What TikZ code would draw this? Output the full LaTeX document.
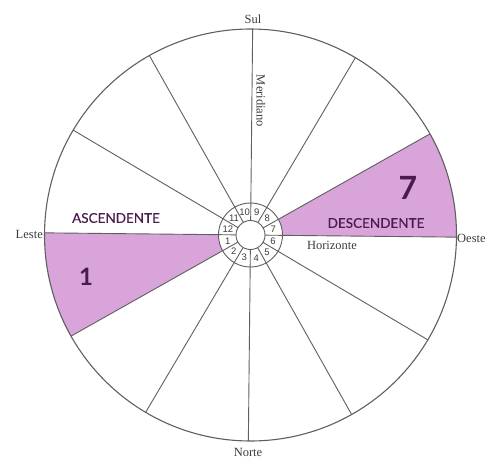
\documentclass[tikz,border=0pt]{standalone}
\usepackage{fontspec}
\setmainfont{Liberation Serif}
\newfontfamily\latof{Lato}
\newfontfamily\latoc[FakeBold=0.3]{Lato}
\newfontfamily\numf{Liberation Sans}
\definecolor{pinkc}{RGB}{216,164,218}
\definecolor{purpc}{RGB}{74,28,76}
\definecolor{linec}{RGB}{95,95,95}
\definecolor{textc}{RGB}{60,60,60}
\begin{document}
\begin{tikzpicture}[x=1pt,y=1pt,
  spoke/.style={draw=linec,line width=0.9pt},
  rim/.style={draw=linec,line width=1.1pt},
  num/.style={font=\numf\fontsize{9.5}{9.5}\selectfont,text=textc,inner sep=0pt},
  dir/.style={font=\fontsize{12.5}{13}\selectfont,text=textc,inner sep=1pt},
  big/.style={font=\latoc\fontsize{13.5}{14}\selectfont,text=purpc,inner sep=0pt}]
\useasboundingbox (0,0) rectangle (500,-474);
\begin{scope}[shift={(250.5,-235)},rotate=-0.6]
  \fill[pinkc] (0:32) -- (0:206) arc[start angle=0,end angle=30,radius=206]
     -- (30:32) arc[start angle=30,end angle=0,radius=32] -- cycle;
  \fill[pinkc] (180:32) -- (180:206) arc[start angle=180,end angle=210,radius=206]
     -- (210:32) arc[start angle=210,end angle=180,radius=32] -- cycle;
  \foreach \a in {0,30,...,330} \draw[spoke] (\a:14.5) -- (\a:206);
  \draw[rim] (0,0) circle[radius=206];
  \draw[spoke,fill=white] (0,0) circle[radius=14.5];
  \draw[spoke] (0,0) circle[radius=32];
  \foreach \k in {1,...,12} \node[num] (h\k) at ({165+30*\k}:23.5) {\k};
\end{scope}
\node[dir] (sul) at (253,-19) {Sul};
\node[dir] (norte) at (248,-452) {Norte};
\node[dir,anchor=east] (leste) at (44,-234) {Leste};
\node[dir,anchor=west] (oeste) at (456,-238) {Oeste};
\node[dir] (hor) at (332,-245) {Horizonte};
\node[dir,rotate=-90] (mer) at (261,-101) {Meridiano};
\node[big] (asc) at (116,-218) {ASCENDENTE};
\node[big] (desc) at (376,-223) {DESCENDENTE};
\node[font=\latof\bfseries\fontsize{32}{32}\selectfont,text=purpc,inner sep=0pt] (seven) at (408,-188) {7};
\node[font=\latof\bfseries\fontsize{24}{24}\selectfont,text=purpc,inner sep=0pt] (one) at (86,-277) {1};
\end{tikzpicture}
\end{document}
